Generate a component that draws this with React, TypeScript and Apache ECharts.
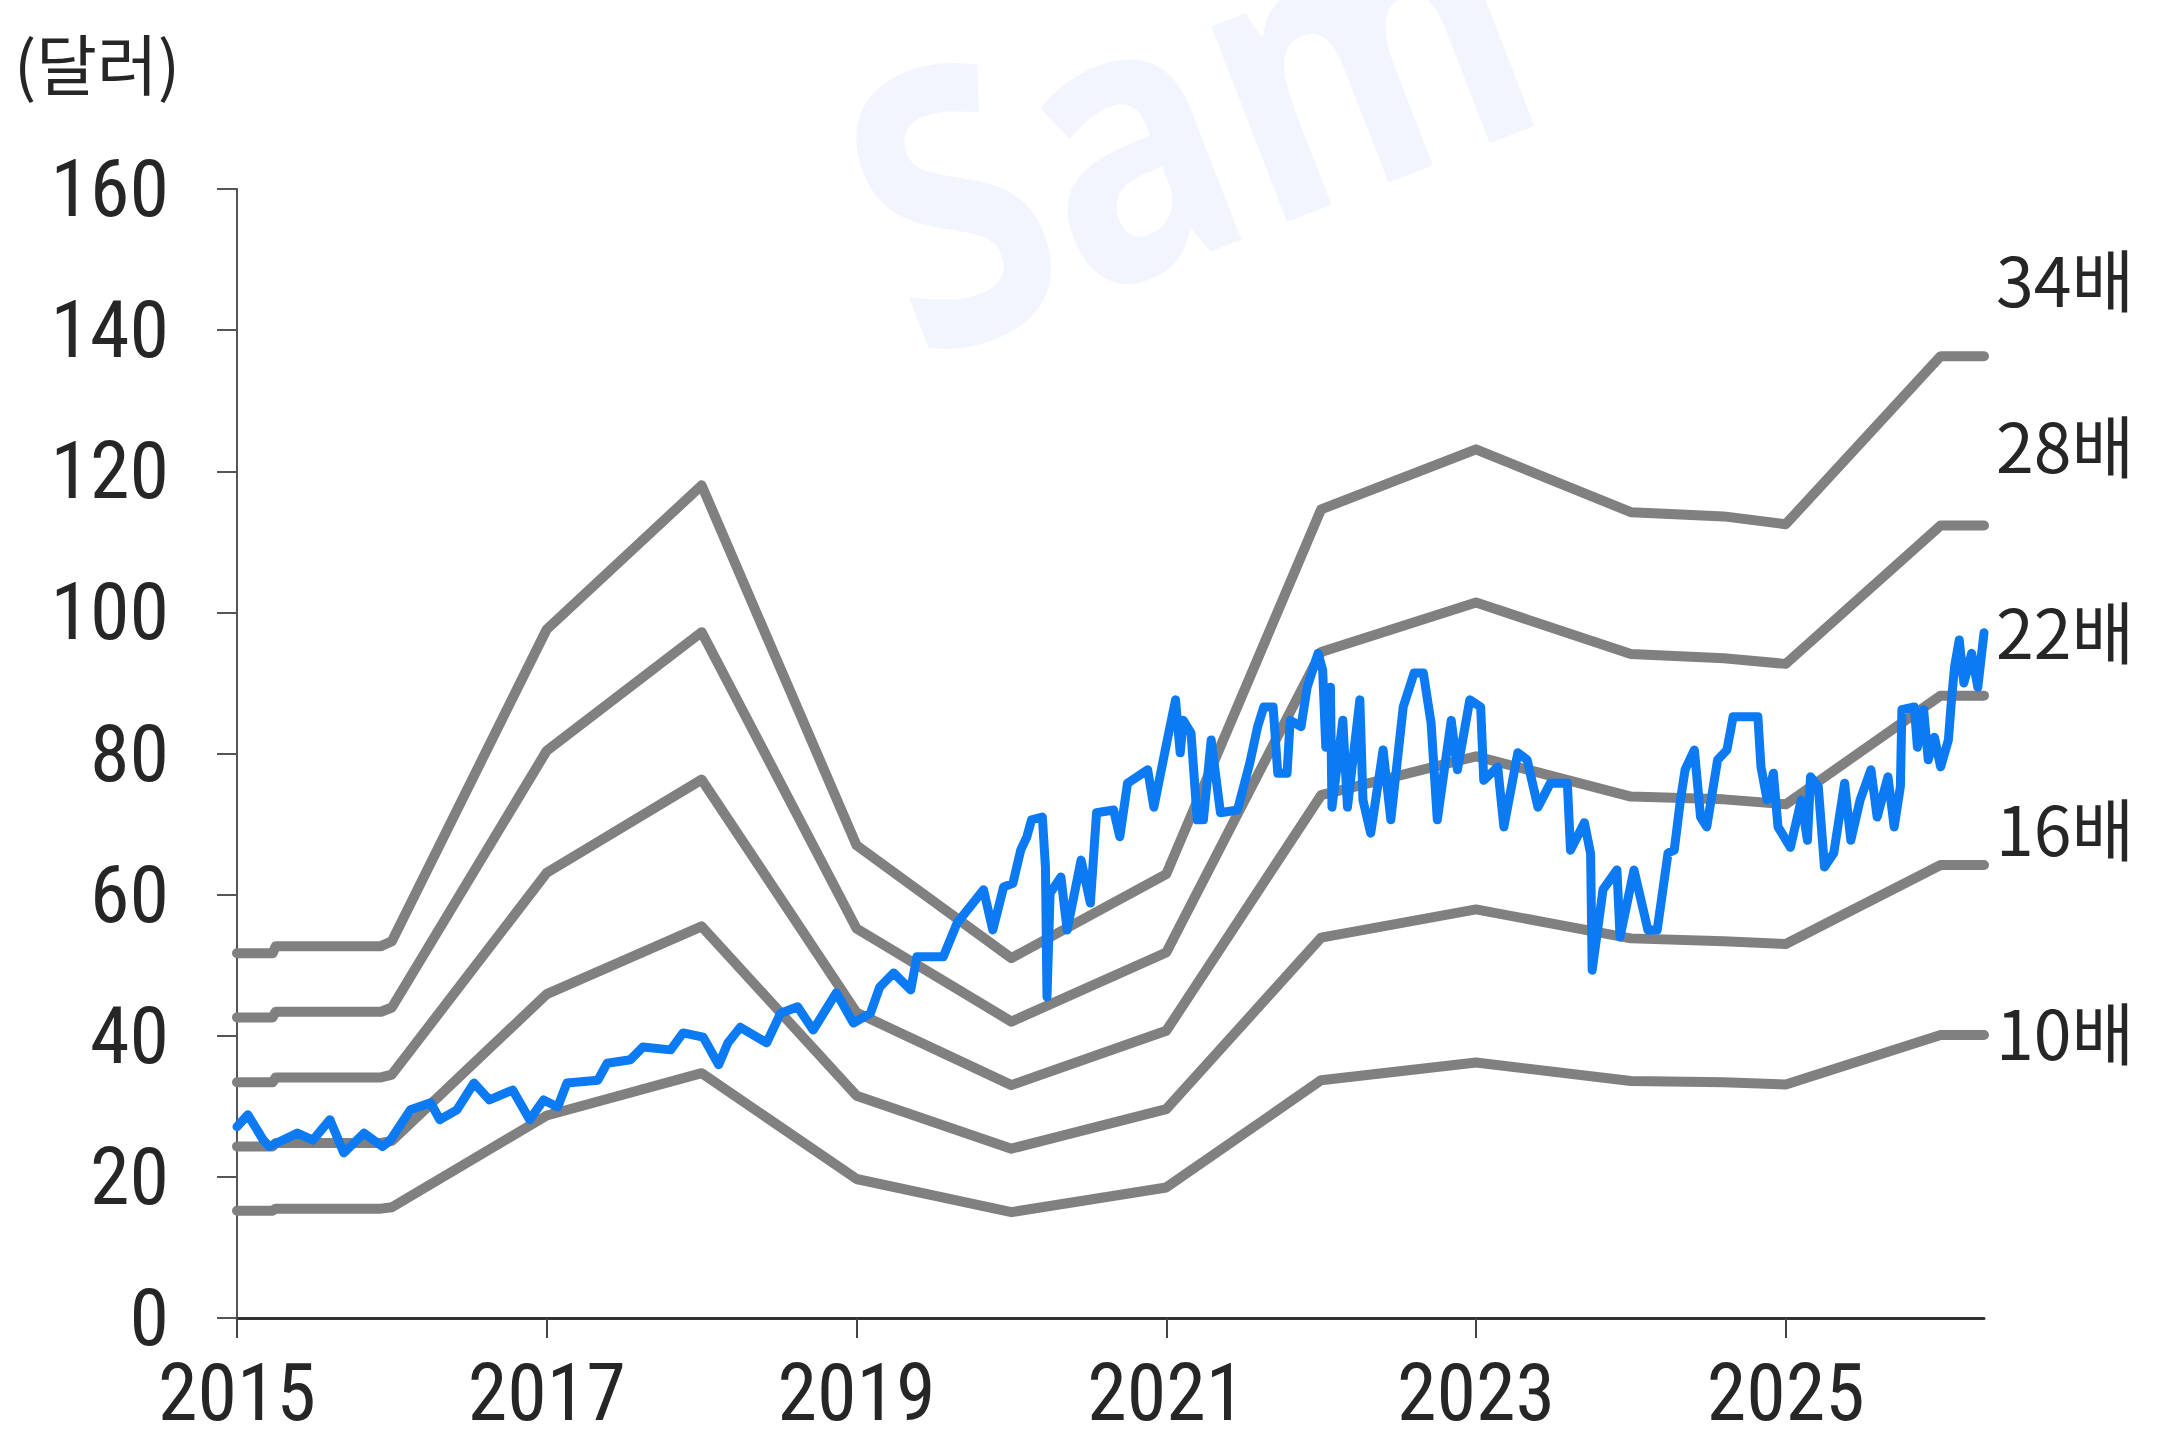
import React, { useEffect, useRef } from 'react';
import * as echarts from 'echarts';

// ---- Data ----
const xTickYears = [2015, 2017, 2019, 2021, 2023, 2025];
const yTicks = [0, 20, 40, 60, 80, 100, 120, 140, 160];

const bandNames = ['10배', '16배', '22배', '28배', '34배'];
const bandYears = [2015.0, 2015.23, 2015.25, 2015.93, 2016.0, 2017.0, 2018.0, 2019.0, 2020.0, 2021.0, 2022.0, 2023.0, 2024.0, 2024.6, 2025.0, 2026.0, 2026.28];
const band10 = [15.2, 15.2, 15.5, 15.5, 15.7, 28.7, 34.7, 19.7, 15.0, 18.5, 33.7, 36.2, 33.6, 33.4, 33.1, 40.1, 40.1];
const band16 = [24.3, 24.3, 24.8, 24.8, 25.1, 45.9, 55.5, 31.5, 24.0, 29.6, 53.9, 57.9, 53.8, 53.4, 53.0, 64.2, 64.2];
const band22 = [33.4, 33.4, 34.1, 34.1, 34.5, 63.1, 76.3, 43.3, 33.0, 40.7, 74.1, 79.6, 73.9, 73.5, 72.8, 88.2, 88.2];
const band28 = [42.6, 42.6, 43.4, 43.4, 44.0, 80.4, 97.2, 55.2, 42.0, 51.8, 94.4, 101.4, 94.1, 93.5, 92.7, 112.3, 112.3];
const band34 = [51.7, 51.7, 52.7, 52.7, 53.4, 97.6, 118.0, 67.0, 51.0, 62.9, 114.6, 123.1, 114.2, 113.6, 112.5, 136.3, 136.3];

const priceYears = [
  2015.00, 2015.07, 2015.17, 2015.21, 2015.39, 2015.49, 2015.60, 2015.69, 2015.82, 2015.94, 2015.99,
  2016.12, 2016.25, 2016.31, 2016.42, 2016.53, 2016.63, 2016.78, 2016.89, 2016.98,
  2017.07, 2017.13, 2017.33, 2017.39, 2017.54, 2017.62, 2017.80, 2017.88,
  2018.01, 2018.11, 2018.17, 2018.25, 2018.42, 2018.51, 2018.62, 2018.72, 2018.87, 2018.98,
  2019.09, 2019.15, 2019.24, 2019.35, 2019.39, 2019.56, 2019.65, 2019.73, 2019.82, 2019.88, 2019.95,
  2020.01, 2020.06, 2020.10, 2020.13, 2020.20, 2020.22, 2020.23, 2020.25, 2020.32, 2020.36, 2020.45,
  2020.51, 2020.55, 2020.66, 2020.70, 2020.75, 2020.88, 2020.92,
  2021.01, 2021.06, 2021.09, 2021.11, 2021.16, 2021.20, 2021.24, 2021.29, 2021.35, 2021.46, 2021.54,
  2021.59, 2021.63, 2021.69, 2021.72, 2021.78, 2021.80, 2021.87, 2021.91, 2021.98,
  2022.01, 2022.03, 2022.06, 2022.07, 2022.14, 2022.17, 2022.25, 2022.27, 2022.32, 2022.40, 2022.45,
  2022.53, 2022.60, 2022.66, 2022.71, 2022.75, 2022.84, 2022.88, 2022.96,
  2023.03, 2023.05, 2023.14, 2023.18, 2023.27, 2023.33, 2023.40, 2023.48, 2023.59, 2023.61, 2023.70,
  2023.74, 2023.75, 2023.82, 2023.91, 2023.93,
  2024.02, 2024.11, 2024.17, 2024.24, 2024.28, 2024.32, 2024.35, 2024.41, 2024.45, 2024.49, 2024.56,
  2024.62, 2024.66, 2024.82, 2024.84, 2024.88, 2024.92, 2024.95,
  2025.03, 2025.10, 2025.14, 2025.16, 2025.21, 2025.25, 2025.31, 2025.38, 2025.42, 2025.48, 2025.55,
  2025.59, 2025.66, 2025.70, 2025.74, 2025.75, 2025.83, 2025.85, 2025.89, 2025.92, 2025.96,
  2026.00, 2026.05, 2026.07, 2026.09, 2026.12, 2026.15, 2026.20, 2026.24, 2026.28,
];
const priceValues = [
  27.1, 28.8, 25.2, 24.3, 26.2, 25.2, 28.1, 23.4, 26.2, 24.3, 25.2,
  29.5, 30.5, 28.1, 29.5, 33.3, 30.9, 32.3, 28.1, 30.9,
  29.9, 33.3, 33.7, 36.1, 36.6, 38.4, 38.0, 40.4,
  39.8, 35.9, 39.0, 41.2, 39.0, 43.2, 44.1, 40.8, 46.1, 41.8,
  43.2, 46.9, 48.9, 46.5, 51.2, 51.2, 56.0, 58.2, 60.7, 55.0, 61.1,
  61.6, 66.3, 68.2, 70.6, 71.0, 63.9, 45.5, 60.2, 62.5, 55.0, 64.9,
  58.8, 71.6, 72.0, 68.2, 75.8, 77.7, 72.4,
  82.3, 87.6, 80.1, 84.7, 82.9, 70.6, 70.6, 81.9, 71.6, 72.0, 78.7,
  83.8, 86.6, 86.6, 77.2, 77.2, 84.7, 83.8, 89.4, 94.2,
  91.8, 80.9, 89.4, 72.4, 84.7, 72.4, 87.6, 73.4, 68.7, 80.5, 70.6,
  86.6, 91.4, 91.4, 84.3, 70.6, 84.7, 77.7, 87.6,
  86.6, 76.2, 78.1, 69.6, 80.1, 79.1, 72.4, 75.8, 75.8, 66.3, 70.2,
  65.8, 49.3, 60.7, 63.5, 54.0,
  63.5, 55.0, 55.0, 65.9, 66.3, 73.4, 77.7, 80.5, 71.0, 69.6, 79.1,
  80.5, 85.2, 85.2, 78.1, 73.4, 77.2, 69.6,
  66.7, 73.4, 67.7, 76.7, 75.3, 63.9, 65.9, 75.8, 67.7, 73.4, 77.7,
  71.0, 76.7, 69.6, 75.3, 86.2, 86.6, 80.9, 86.2, 79.1, 82.3,
  78.1, 81.9, 87.6, 92.3, 96.1, 90.0, 94.2, 89.4, 97.1,
];

const BASE_YEAR = 2015;
const X_MAX = 11.28;

const NARROW = "'Liberation Sans Narrow', 'Roboto Condensed', 'Liberation Sans', sans-serif";
const KR = "'Noto Sans CJK KR', 'Noto Sans', sans-serif";
const TEXT_COLOR = '#262626';

export default function App() {
  const ref = useRef<HTMLDivElement>(null);

  useEffect(() => {
    const chart = echarts.init(ref.current!, null, { renderer: 'svg' });

    const bands = [band10, band16, band22, band28, band34];
    const labelDy = [-5, -38, -66, -82, -79];
    const bandSeries = bands.map((vals, k) => ({
      name: bandNames[k],
      type: 'line',
      data: bandYears.map((y, i) => [y - BASE_YEAR, vals[i]]),
      symbol: 'none',
      z: 2,
      lineStyle: { color: '#808080', width: 10, join: 'round', cap: 'round' },
      endLabel: {
        show: true,
        formatter: bandNames[k],
        color: TEXT_COLOR,
        fontSize: 68,
        fontFamily: KR,
        align: 'left',
        verticalAlign: 'middle',
        distance: 0,
        offset: [12, labelDy[k]],
      },
    }));

    chart.setOption({
      animation: false,
      backgroundColor: '#ffffff',
      grid: { left: 237, right: 176, top: 189, bottom: 124, containLabel: false },
      xAxis: {
        type: 'value',
        min: 0,
        max: X_MAX,
        interval: 2,
        axisLine: { show: true, onZero: false, lineStyle: { color: '#333333', width: 3 } },
        axisTick: { show: true, length: 20, lineStyle: { color: '#444444', width: 2 } },
        splitLine: { show: false },
        axisLabel: {
          showMaxLabel: false,
          margin: 42,
          fontSize: 80,
          lineHeight: 66,
          fontFamily: NARROW,
          color: TEXT_COLOR,
          formatter: (v: number) => {
            const yr = BASE_YEAR + Math.round(v);
            return xTickYears.includes(yr) ? String(yr) : '';
          },
        },
      },
      yAxis: {
        type: 'value',
        min: yTicks[0],
        max: yTicks[yTicks.length - 1],
        interval: 20,
        axisLine: { show: true, lineStyle: { color: '#555555', width: 2 } },
        axisTick: { show: true, length: 20, lineStyle: { color: '#555555', width: 2 } },
        splitLine: { show: false },
        axisLabel: {
          margin: 68,
          fontSize: 80,
          fontFamily: NARROW,
          color: TEXT_COLOR,
          padding: [0, 0, 18, 0],
        },
      },
      graphic: [
        {
          type: 'text',
          x: 935,
          y: 405,
          rotation: 0.37,
          scaleY: 1.2,
          z: -10,
          silent: true,
          style: {
            text: 'Sam',
            fontSize: 320,
            fontWeight: 'bold',
            fontFamily: "'Open Sans', 'Noto Sans', sans-serif",
            fill: '#F2F5FD',
            textAlign: 'left',
            textVerticalAlign: 'bottom',
          },
        },
        {
          type: 'text',
          left: 14,
          top: 28,
          style: {
            text: '(달러)',
            fontSize: 66,
            fontFamily: KR,
            fill: TEXT_COLOR,
          },
        },
      ],
      series: [
        ...bandSeries,
        {
          name: '주가',
          type: 'line',
          data: priceYears.map((y, i) => [y - BASE_YEAR, priceValues[i]]),
          symbol: 'none',
          z: 5,
          lineStyle: { color: '#0C7AF2', width: 9, join: 'round', cap: 'round' },
        },
      ],
    });

    return () => chart.dispose();
  }, []);

  return (
    <div
      ref={ref}
      style={{ position: 'fixed', left: 0, top: 0, width: 2160, height: 1442, background: '#ffffff' }}
    />
  );
}
